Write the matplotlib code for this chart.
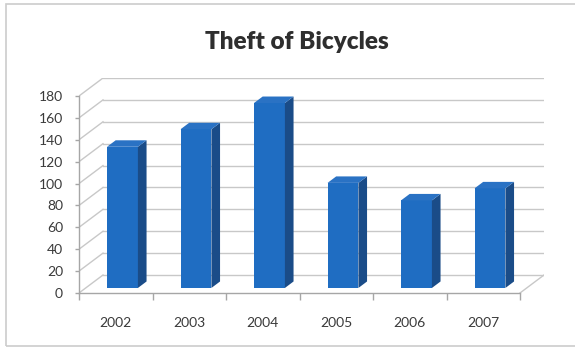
import matplotlib
matplotlib.use("Agg")
import matplotlib.pyplot as plt
from matplotlib.patches import Polygon, Rectangle

years = ["2002", "2003", "2004", "2005", "2006", "2007"]
thefts = [129, 145, 169, 96, 80, 91]
y_ticks = list(range(0, 181, 20))

W, H, DPI = 575, 350, 100
fig = plt.figure(figsize=(W / DPI, H / DPI), dpi=DPI)
fig.patch.set_facecolor("white")

# outer chart frame (right edge falls off the canvas)
fig.add_artist(Rectangle((5.5 / W, 1 - 346 / H), 1.2, (346 - 4) / H,
                         transform=fig.transFigure, fill=False,
                         edgecolor="#cccccc", lw=1.2))

# pseudo-3d: front plane pixel geometry and depth offset
x0_px, x1_px = 79, 520          # front category axis
y0_px, ytop_px = 293, 96        # value 0 and 180 on the front plane
dx_px, dy_px = 24, 18           # depth offset of the back wall
cat_px = (x1_px - x0_px) / len(years)
val_px = (y0_px - ytop_px) / 180
DX = dx_px / cat_px
DY = dy_px / val_px
ymax = 180

ax = fig.add_axes([x0_px / W, 1 - y0_px / H,
                   (x1_px - x0_px + dx_px) / W, (y0_px - ytop_px + dy_px) / H])
ax.set_xlim(-0.5, len(years) - 0.5 + DX)
ax.set_ylim(0, ymax + DY)
ax.patch.set_alpha(0)

grid_c = "#c8c8c8"
# back wall gridlines and side-wall diagonals
for v in y_ticks:
    ax.plot([-0.5 + DX, len(years) - 0.5 + DX], [v + DY, v + DY],
            color=grid_c, lw=1, zorder=1)
    ax.plot([-0.5, -0.5 + DX], [v, v + DY], color=grid_c, lw=1, zorder=1)
# floor right edge
ax.plot([len(years) - 0.5, len(years) - 0.5 + DX], [0, DY],
        color=grid_c, lw=1, zorder=1)

# bars: front face plus top and side faces
d0, d1 = 0.28, 0.64
bw = 0.42
front_c, top_c, side_c = "#1f6dc2", "#2a72c4", "#1a4c88"
xs = [i + d0 * DX for i in range(len(years))]
ax.bar(xs, thefts, width=bw, bottom=d0 * DY, color=front_c,
       edgecolor="none", zorder=3)
ddx, ddy = (d1 - d0) * DX, (d1 - d0) * DY
for x, v in zip(xs, thefts):
    l, r = x - bw / 2, x + bw / 2
    b, t = d0 * DY, v + d0 * DY
    ax.add_patch(Polygon([(r, b), (r + ddx, b + ddy), (r + ddx, t + ddy), (r, t)],
                         closed=True, facecolor=side_c, edgecolor="none", zorder=3))
    ax.add_patch(Polygon([(l, t), (r, t), (r + ddx, t + ddy), (l + ddx, t + ddy)],
                         closed=True, facecolor=top_c, edgecolor="none", zorder=3))

# axes
for s in ["top", "right"]:
    ax.spines[s].set_visible(False)
ax.spines["left"].set_bounds(0, ymax)
ax.spines["bottom"].set_bounds(-0.5, len(years) - 0.5)
for s in ["left", "bottom"]:
    ax.spines[s].set_color("#a6a6a6")
    ax.spines[s].set_linewidth(1)

ax.set_yticks(y_ticks)
ax.set_yticklabels([str(v) for v in y_ticks])
ax.tick_params(axis="y", length=3, width=1, color="#a6a6a6", pad=8.5,
               labelsize=10, labelcolor="#3a3a3a")
ax.set_xticks(range(len(years)))
ax.set_xticklabels(years)
ax.set_xticks([i - 0.5 for i in range(len(years) + 1)], minor=True)
ax.tick_params(axis="x", which="major", length=0, pad=17,
               labelsize=10, labelcolor="#3a3a3a")
ax.tick_params(axis="x", which="minor", length=5, width=1, color="#a6a6a6")
for lab in ax.get_xticklabels() + ax.get_yticklabels():
    lab.set_family("Lato")

fig.text(297 / W, 1 - 42 / H, "Theft of Bicycles", ha="center", va="center",
         fontsize=17.5, fontweight="heavy", family="Lato", color="#2e2e2e")

fig.savefig("out.png", dpi=DPI)
